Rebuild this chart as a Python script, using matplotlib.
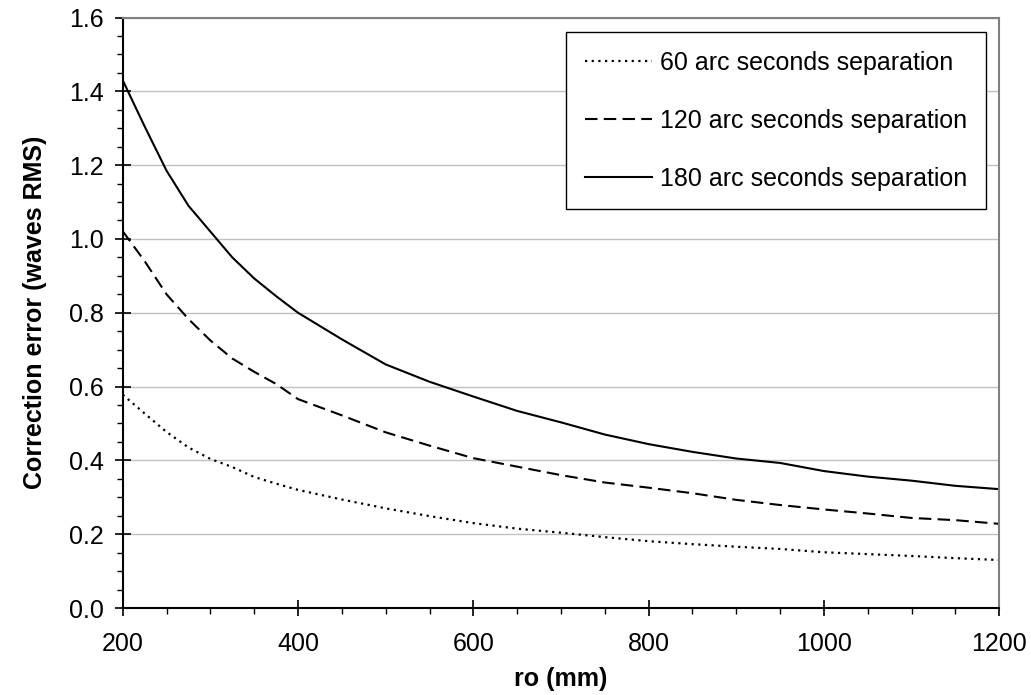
import numpy as np
import matplotlib
matplotlib.use("Agg")
import matplotlib.pyplot as plt
from matplotlib.ticker import MultipleLocator

plt.rcParams["font.family"] = ["Liberation Sans", "DejaVu Sans"]

# ====== data ======
ro_mm = [200, 225, 250, 275, 300, 325, 350, 375, 400, 450, 500, 550, 600,
         650, 700, 750, 800, 850, 900, 950, 1000, 1050, 1100, 1150, 1200]
err_60 = [0.578, 0.527, 0.477, 0.435, 0.404, 0.382, 0.355, 0.337, 0.320,
          0.294, 0.270, 0.249, 0.230, 0.215, 0.204, 0.192, 0.181, 0.173,
          0.166, 0.160, 0.151, 0.146, 0.141, 0.135, 0.130]
err_120 = [1.021, 0.940, 0.850, 0.783, 0.725, 0.676, 0.640, 0.607, 0.566,
           0.522, 0.476, 0.440, 0.406, 0.383, 0.360, 0.340, 0.326, 0.311,
           0.293, 0.279, 0.267, 0.256, 0.244, 0.238, 0.228]
err_180 = [1.430, 1.305, 1.185, 1.090, 1.020, 0.950, 0.893, 0.845, 0.800,
           0.728, 0.660, 0.613, 0.573, 0.534, 0.503, 0.470, 0.444, 0.423,
           0.405, 0.393, 0.371, 0.356, 0.345, 0.331, 0.322]
labels = ["60 arc seconds separation", "120 arc seconds separation",
          "180 arc seconds separation"]

# ====== figure ======
W, H = 1031, 695
fig = plt.figure(figsize=(W / 100, H / 100), dpi=100)
ax = fig.add_axes([122.7 / W, 1 - 608 / H, (999.3 - 122.7) / W, (608 - 17.5) / H])

ax.plot(ro_mm, err_60, color="black", lw=1.6, linestyle=(0, (1, 2)), label=labels[0])
ax.plot(ro_mm, err_120, color="black", lw=1.5, linestyle=(0, (6, 3)), label=labels[1])
ax.plot(ro_mm, err_180, color="black", lw=1.5, linestyle="-", label=labels[2])

ax.set_xlim(200, 1200)
ax.set_ylim(0, 1.6)
ax.xaxis.set_major_locator(MultipleLocator(200))
ax.xaxis.set_minor_locator(MultipleLocator(50))
ax.yaxis.set_major_locator(MultipleLocator(0.2))
ax.yaxis.set_minor_locator(MultipleLocator(0.05))
ax.yaxis.set_major_formatter(plt.FuncFormatter(lambda v, p: f"{v:.1f}"))

ax.grid(axis="y", which="major", color="#c0c0c0", lw=1.0)
ax.set_axisbelow(True)

ax.tick_params(which="major", direction="inout", length=11, width=1.2, labelsize=18)
ax.tick_params(axis="x", which="major", pad=12)
ax.tick_params(axis="y", which="major", pad=8)
ax.tick_params(which="minor", direction="out", length=4, width=1.0)
ax.tick_params(top=False, right=False, which="both")

for side in ["left", "bottom"]:
    ax.spines[side].set_color("black")
    ax.spines[side].set_linewidth(1.5)
for side in ["top", "right"]:
    ax.spines[side].set_color("#808080")
    ax.spines[side].set_linewidth(1.5)

ax.set_xlabel("ro (mm)", fontsize=18, fontweight="bold", labelpad=8)
ax.set_ylabel("Correction error (waves RMS)", fontsize=18, fontweight="bold", labelpad=16)

leg = ax.legend(loc="upper right", bbox_to_anchor=(985.7 / W, 1 - 32.3 / H),
                bbox_transform=fig.transFigure, borderaxespad=0,
                fontsize=18, frameon=True, fancybox=False, framealpha=1,
                edgecolor="black", handlelength=2.7, handletextpad=0.3,
                labelspacing=1.35, borderpad=0.75)
leg.get_frame().set_linewidth(1.0)

fig.savefig("out.png", dpi=100)
